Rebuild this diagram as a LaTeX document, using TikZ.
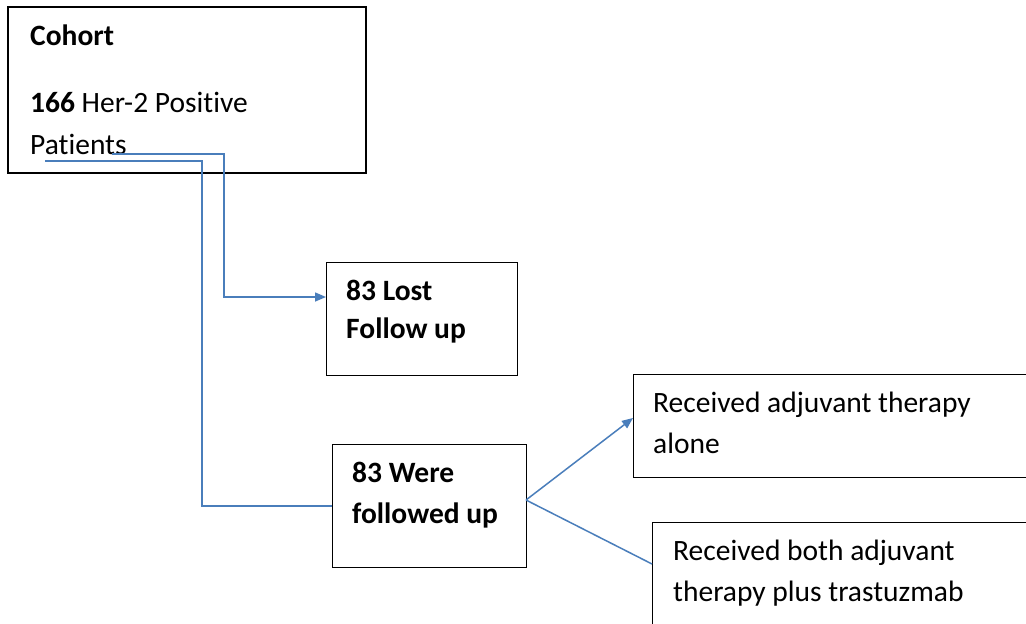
\documentclass[tikz,border=0pt]{standalone}
\usepackage{fontspec}
\setmainfont[Ligatures=NoCommon]{Carlito}
\usetikzlibrary{arrows.meta}
\definecolor{officeblue}{HTML}{4A7EBB}
\tikzset{
  box/.style={draw=black, line width=1.2pt},
  txt/.style={anchor=base west, inner sep=0pt, font=\fontsize{29.5}{36}\selectfont},
  conn/.style={draw=officeblue, line width=1.5pt},
  tip/.style={-{Triangle[length=11pt,width=9pt]}}
}
\begin{document}
\begin{tikzpicture}[x=1pt,y=-1pt]
\useasboundingbox (0,0) rectangle (1026,624);
\fill[white] (0,0) rectangle (1026,624);
% boxes
\draw[box] (8,7) rectangle (366,173);
\coordinate (cohortA) at (112,154);
\coordinate (cohortB) at (45,161);
\node[txt] (t1) at (30,45) {\textbf{Cohort}};
\node[txt] (t2) at (30,112) {\textbf{166} Her-2 Positive};
\node[txt] (t3) at (30,154) {Patients};

\node[box, anchor=north west, minimum width=191pt, minimum height=113pt, inner sep=0pt] (lost) at (326,262) {};
\node[txt] (t4) at (346,300) {\textbf{83 Lost}};
\node[txt] (t5) at (346,338) {\textbf{Follow up}};

\node[box, anchor=north west, minimum width=194pt, minimum height=123pt, inner sep=0pt] (were) at (332,444) {};
\node[txt] (t6) at (352,482) {\textbf{83 Were}};
\node[txt] (t7) at (352,523) {\textbf{followed up}};

\node[box, anchor=north west, minimum width=400pt, minimum height=103pt, inner sep=0pt] (alone) at (633,374) {};
\node[txt] (t8) at (653,412) {Received adjuvant therapy};
\node[txt] (t9) at (653,453) {alone};

\node[box, anchor=north west, minimum width=400pt, minimum height=120pt, inner sep=0pt] (both) at (652,522) {};
\node[txt] (t10) at (673,560) {Received both adjuvant};
\node[txt] (t11) at (673,601) {therapy plus trastuzmab};

% connectors
\draw[conn] (cohortB) -- (202,161) -- (202,506) -- (were.west |- 0,506);
\draw[conn, tip] (cohortA) -- (224,154) -- (224,297) -- (lost.west |- 0,297);
\coordinate (split) at (526,500);
\draw[conn, tip] (split) -- (633,418);
\draw[conn] (split) -- (652,564);
\end{tikzpicture}
\end{document}
